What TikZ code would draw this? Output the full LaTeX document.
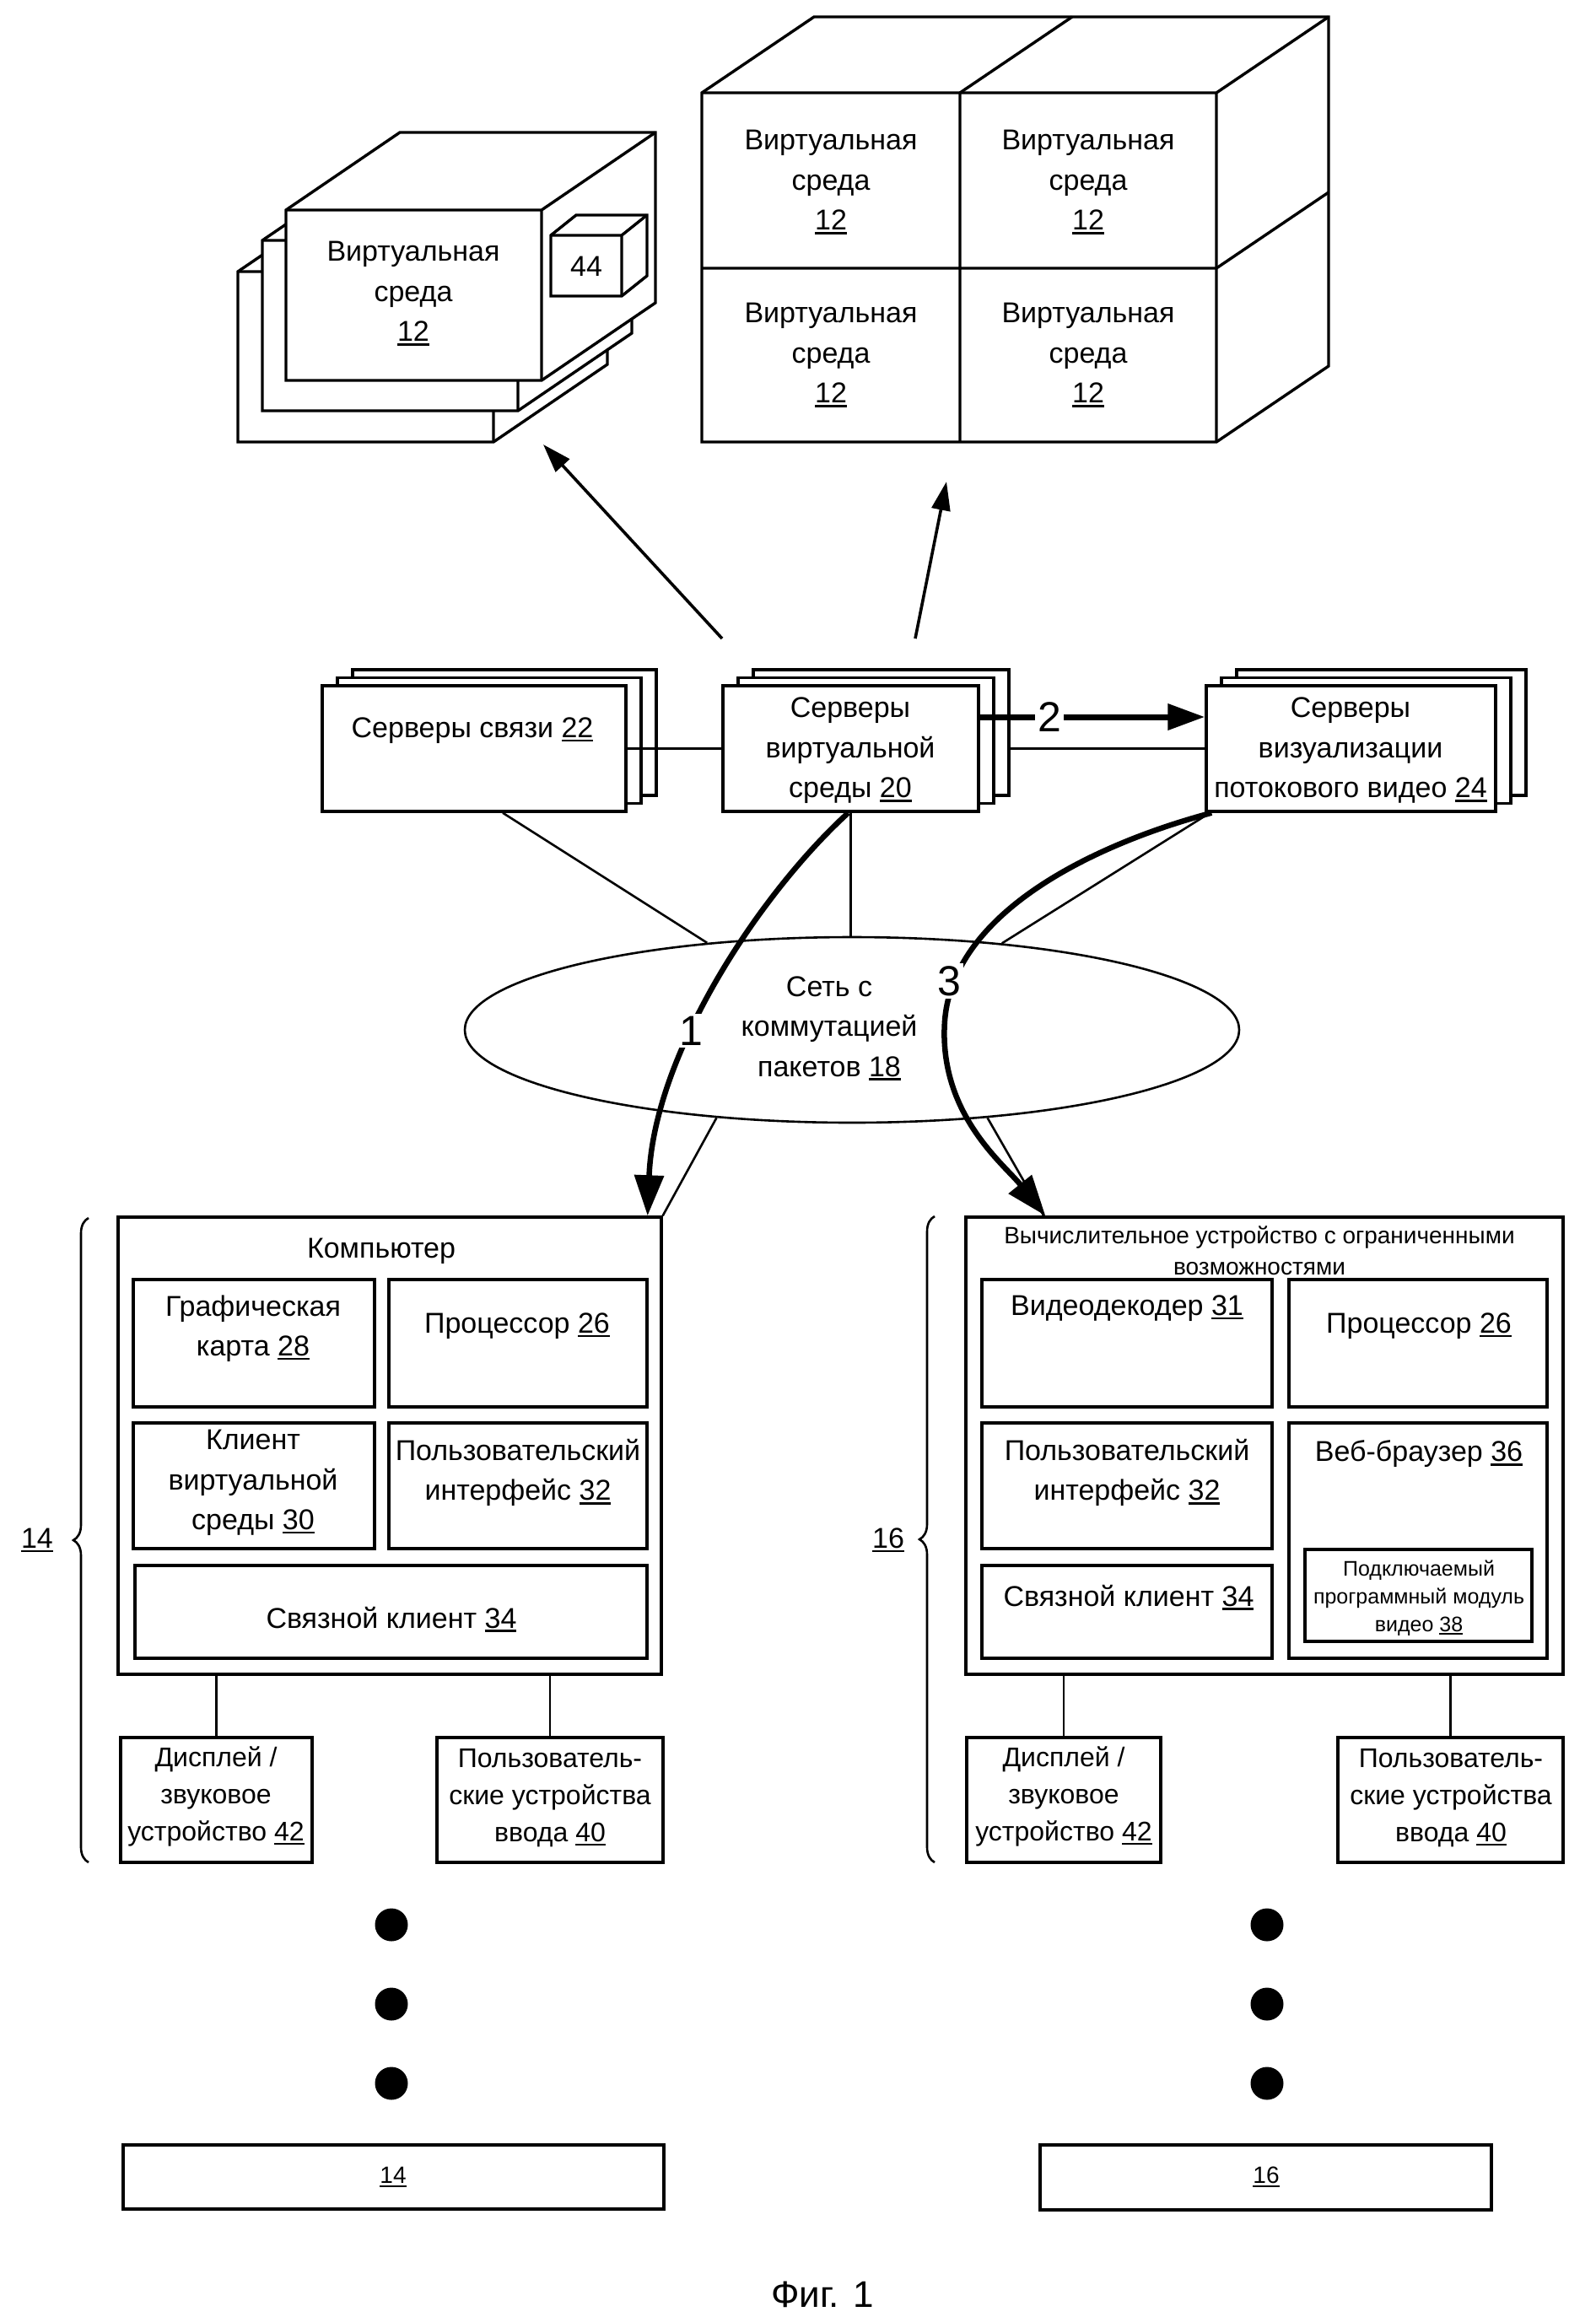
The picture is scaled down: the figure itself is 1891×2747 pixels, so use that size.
\documentclass[tikz,border=0pt]{standalone}
\usepackage{fontspec}
\setmainfont{Liberation Sans}
\usetikzlibrary{arrows.meta,decorations.pathreplacing,fit,shapes.geometric}
\newcommand{\ulnum}[1]{\setbox0\hbox{#1}\rlap{\rule[-0.14em]{\wd0}{0.075em}}\box0}
\newcommand{\mycuboid}[6]{%
  \draw[ln,fill=white] (#1,#2) -- ({#1+#5},{#2+#6}) -- ({#3+#5},{#2+#6}) -- ({#3+#5},{#4+#6}) -- (#3,#4) -- (#1,#4) -- cycle;
  \draw[ln] (#1,#2) -- (#3,#2) -- (#3,#4) (#3,#2) -- ({#3+#5},{#2+#6});}
\newcommand{\mystack}[5]{%
  \draw[ln,fill=white] ({#2+36},{#3-19}) rectangle ({#4+36},{#5-19});
  \draw[ln,fill=white] ({#2+18},{#3-9.5}) rectangle ({#4+18},{#5-9.5});
  \node[bx,fit={(#2,#3) (#4,#5)}] (#1) {};}
\newcommand{\mybox}[5]{\node[bx,fit={(#2,#3) (#4,#5)}] (#1) {};}
\begin{document}
\begin{tikzpicture}[x=1pt,y=-1pt,
  every node/.style={font=\fontsize{34}{47.5}\selectfont, inner sep=0pt, align=center},
  ln/.style={line width=3.4pt},
  bx/.style={draw, line width=3.4pt, fill=white, inner sep=0pt},
  wire/.style={line width=2.6pt},
  bigarrow/.style={line width=6.5pt, -{Triangle[length=48pt,width=34pt]}},
  smallarrow/.style={line width=3.6pt, -{Triangle[length=34pt,width=22pt]}},
  lab/.style={fill=white, inner sep=3pt, font=\fontsize{50}{50}\selectfont},
  dev/.style={font=\fontsize{32}{44}\selectfont},
  smalltxt/.style={font=\fontsize{25}{33}\selectfont},
  titletxt/.style={font=\fontsize{28}{37}\selectfont},
  dot/.style={circle, fill=black, minimum size=39pt},
]
\useasboundingbox (0,0) rectangle (1891,2747);

% ---------- top-left stacked virtual environment ----------
\mycuboid{282}{322}{585}{524}{135}{-92}
\mycuboid{311}{285}{614}{487}{135}{-92}
\mycuboid{339}{249}{642}{451}{135}{-92}
\node (ve0) at (490,348) {Виртуальная\\среда\\\ulnum{12}};
\mycuboid{653}{279}{737}{351}{30}{-24}
\node (c44) at (695,316) {44};

% ---------- top-right 2x2 cube ----------
\mycuboid{832}{110}{1442}{524}{133}{-90}
\draw[ln] (1138,110) -- (1138,524) (832,318) -- (1442,318)
          (1138,110) -- ++(133,-90) (1442,318) -- ++(133,-90);
\node (ve1) at (985,216) {Виртуальная\\среда\\\ulnum{12}};
\node (ve2) at (1290,216) {Виртуальная\\среда\\\ulnum{12}};
\node (ve3) at (985,421) {Виртуальная\\среда\\\ulnum{12}};
\node (ve4) at (1290,421) {Виртуальная\\среда\\\ulnum{12}};

% ---------- servers ----------
\mystack{comm}{382}{813}{742}{962}
\mystack{vsrv}{857}{813}{1160}{962}
\mystack{strm}{1430}{813}{1773}{962}
\node (commt) at (560,866) {Серверы связи \ulnum{22}};
\node (vsrvt) at (1008,890) {Серверы\\виртуальной\\среды \ulnum{20}};
\node (strmt) at (1601,890) {Серверы\\визуализации\\потокового видео \ulnum{24}};

\draw[wire] (comm.east) -- (vsrv.west);
\draw[wire] ([xshift=36pt]vsrv.east) -- (strm.west);
\draw[line width=7pt, -{Triangle[length=44pt,width=30pt]}] ([yshift=37.5pt]vsrv.east) -- ([yshift=37.5pt]strm.west)
  node[lab, pos=0.31] (l2) {2};

% arrows to virtual environments
\coordinate (a1s) at (856,757);
\coordinate (a1e) at (644,527);
\coordinate (a2s) at (1085,757);
\coordinate (a2e) at (1122,571);
\draw[smallarrow] (a1s) -- (a1e);
\draw[smallarrow] (a2s) -- (a2e);

% ---------- network ----------
\node[draw, ellipse, wire, minimum width=918pt, minimum height=220pt] (net) at (1010,1221) {};
\node (nett) at (983,1219) {Сеть с\\коммутацией\\пакетов \ulnum{18}};
\draw[wire] ([xshift=34pt]comm.south) -- (net.149.6);
\draw[wire] (vsrv.south) -- (vsrv.south |- net.north);
\draw[wire] ([xshift=6pt]strm.south west) -- (net.30.2);

% ---------- computer (14) ----------
\mybox{comp}{140}{1443}{784}{1985}
\node (compt) at (452,1483) {Компьютер};
\mybox{gfx}{158}{1517}{444}{1668}
\node (gfxt) at (300,1575) {Графическая\\карта \ulnum{28}};
\mybox{cpua}{461}{1517}{767}{1668}
\node (cpuat) at (613,1572) {Процессор \ulnum{26}};
\mybox{vec}{158}{1687}{444}{1836}
\node (vect) at (300,1758) {Клиент\\виртуальной\\среды \ulnum{30}};
\mybox{uia}{461}{1687}{767}{1836}
\node (uiat) at (614,1746) {Пользовательский\\интерфейс \ulnum{32}};
\mybox{cca}{160}{1856}{767}{1966}
\node (ccat) at (464,1920) {Связной клиент \ulnum{34}};
\mybox{dispa}{143}{2060}{370}{2208}
\node[dev] (dispat) at (256,2130) {Дисплей /\\звуковое\\устройство \ulnum{42}};
\mybox{inpa}{518}{2060}{786}{2208}
\node[dev] (inpat) at (652,2132) {Пользователь-\\ские устройства\\ввода \ulnum{40}};
\draw[wire] (dispa.north |- comp.south) -- (dispa.north);
\draw[wire] (inpa.north |- comp.south) -- (inpa.north);
\draw[wire, decorate, decoration={brace, amplitude=18pt}] (105,2208) -- (105,1444);
\node (br14) at (44,1826) {\ulnum{14}};

% ---------- limited device (16) ----------
\mybox{lim}{1145}{1443}{1853}{1985}
\node[titletxt] (limt) at (1493,1483) {Вычислительное устройство с ограниченными\\возможностями};
\mybox{vdec}{1164}{1517}{1508}{1668}
\node (vdect) at (1336,1551) {Видеодекодер \ulnum{31}};
\mybox{cpub}{1528}{1517}{1834}{1668}
\node (cpubt) at (1682,1572) {Процессор \ulnum{26}};
\mybox{uib}{1164}{1687}{1508}{1836}
\node (uibt) at (1336,1746) {Пользовательский\\интерфейс \ulnum{32}};
\mybox{web}{1528}{1687}{1834}{1966}
\node (webt) at (1682,1724) {Веб-браузер \ulnum{36}};
\mybox{plug}{1547}{1837}{1816}{1946}
\node[smalltxt] (plugt) at (1682,1895) {Подключаемый\\программный модуль\\видео \ulnum{38}};
\mybox{ccb}{1164}{1856}{1508}{1966}
\node (ccbt) at (1338,1894) {Связной клиент \ulnum{34}};
\mybox{dispb}{1146}{2060}{1376}{2208}
\node[dev] (dispbt) at (1261,2130) {Дисплей /\\звуковое\\устройство \ulnum{42}};
\mybox{inpb}{1586}{2060}{1853}{2208}
\node[dev] (inpbt) at (1720,2132) {Пользователь-\\ские устройства\\ввода \ulnum{40}};
\draw[wire] (dispb.north |- lim.south) -- (dispb.north);
\draw[wire] (inpb.north |- lim.south) -- (inpb.north);
\draw[wire, decorate, decoration={brace, amplitude=18pt}] (1108,2208) -- (1108,1442);
\node (br16) at (1053,1826) {\ulnum{16}};

% ---------- network to devices ----------
\draw[wire] (net.213.1) -- (comp.north east);
\draw[wire] (net.327.4) -- ([xshift=94pt]lim.north west);

\draw[bigarrow] ([xshift=-3pt]vsrv.south) .. controls (900,1060) and (775,1250) .. ([xshift=-18pt]comp.north east);
\node[lab] (l1) at (819,1222) {1};
\coordinate (m3) at (1120,1210);
\draw[bigarrow] ([xshift=8pt]strm.south west) .. controls (1300,1000) and (1130,1080) .. (m3)
   .. controls (1112,1320) and (1190,1380) .. ([xshift=96pt]lim.north west);
\node[lab] (l3) at (1125,1163) {3};

% ---------- more devices ----------
\node[dot] (d1) at (464,2282) {};
\node[dot] (d2) at (464,2376) {};
\node[dot] (d3) at (464,2470) {};
\node[dot] (d4) at (1502,2282) {};
\node[dot] (d5) at (1502,2376) {};
\node[dot] (d6) at (1502,2470) {};
\mybox{bfourteen}{146}{2543}{787}{2619}
\node[font=\fontsize{28}{30}\selectfont] (b14t) at (466,2581) {\ulnum{14}};
\mybox{bsixteen}{1233}{2543}{1768}{2620}
\node[font=\fontsize{28}{30}\selectfont] (b16t) at (1501,2581) {\ulnum{16}};

\node[font=\fontsize{44}{46}\selectfont] (fig) at (975,2720) {Фиг. 1};
\end{tikzpicture}
\end{document}
